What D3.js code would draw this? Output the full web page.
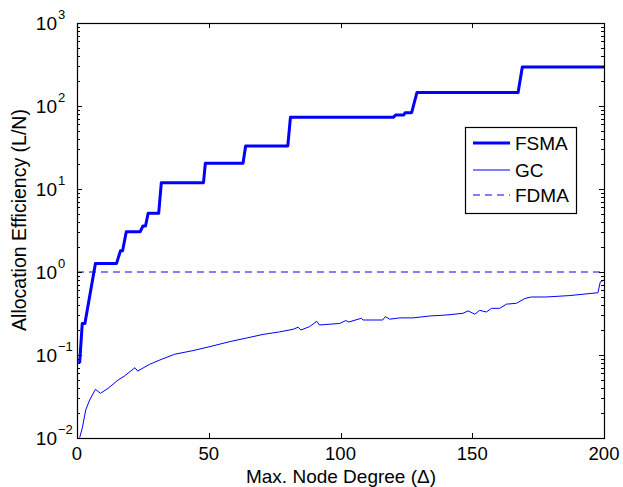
<!DOCTYPE html>
<html lang="en">
  <head>
    <title>Allocation Efficiency</title>
    <script src="https://d3js.org/d3.v7.min.js"></script>
    <style>
      body {
        margin: 0;
        background-color: #fff;
      }
      text {
        font-family: "Liberation Sans", Arial, Helvetica, sans-serif;
        fill: #000;
      }
    </style>
  </head>
  <body>
    <div id="chart"></div>
    <script>
      // FSMA step curve (vertices)
      const fsmaX = [1, 2, 3, 7, 15, 16.5, 17.3, 18.7, 24, 25, 26, 27, 31, 32, 48, 48.7, 63, 64, 80, 81, 120, 121, 124, 124.5, 127, 129, 167.4, 169, 200];
      const fsmaY = [0.08, 0.24, 0.24, 1.27, 1.27, 1.8, 1.8, 3.06, 3.06, 3.58, 3.58, 5.1, 5.1, 11.9, 11.9, 20.4, 20.4, 33, 33, 73, 73, 78, 78, 83, 83, 145, 145, 295, 295];

      // GC curve
      const gcX = [1, 2, 3.3, 4.8, 7, 8.9, 11.8, 15.6, 18, 22, 23, 27.5, 31.4, 37, 44, 50.4, 58, 64.3, 70.6, 76.9, 82, 83.9, 85, 88.3, 91, 92, 99.7, 102, 103.2, 107.9, 108.5, 116, 117, 118.7, 122.5, 127.5, 133.8, 140, 146.5, 148.4, 151, 152.8, 155.4, 157.3, 160.4, 163, 166.8, 170, 172.4, 178, 187, 197.7, 198.6, 200];
      const gcY = [0.0101, 0.0131, 0.0217, 0.0287, 0.0386, 0.0345, 0.0397, 0.05, 0.0558, 0.0703, 0.064, 0.077, 0.087, 0.102, 0.113, 0.126, 0.145, 0.16, 0.177, 0.19, 0.204, 0.216, 0.2, 0.22, 0.255, 0.23, 0.24, 0.26, 0.25, 0.277, 0.264, 0.264, 0.29, 0.27, 0.28, 0.28, 0.295, 0.303, 0.318, 0.34, 0.31, 0.345, 0.33, 0.365, 0.365, 0.41, 0.42, 0.48, 0.5, 0.5, 0.52, 0.563, 0.76, 0.8];

      // FDMA constant
      const fdmaX = [0, 200];
      const fdmaY = [1, 1];

      const xTicks = [0, 50, 100, 150, 200];
      const yExponents = [-2, -1, 0, 1, 2, 3];
      const legendNames = ["FSMA", "GC", "FDMA"];

      const width = 623;
      const height = 487;
      const mLeft = 77, mRight = 604, mTop = 23, mBottom = 438;

      const svg = d3
        .select("#chart")
        .append("svg")
        .attr("width", width)
        .attr("height", height);

      const x = d3.scaleLinear().domain([0, 200]).range([mLeft, mRight]);
      const y = d3.scaleLog().domain([1e-2, 1e3]).range([mBottom, mTop]);

      const line = d3
        .line()
        .x((d) => x(d[0]))
        .y((d) => y(d[1]));

      const zip = (xs, ys) => xs.map((v, i) => [v, ys[i]]);

      svg.append("clipPath").attr("id", "clip")
        .append("rect")
        .attr("x", mLeft).attr("y", mTop)
        .attr("width", mRight - mLeft).attr("height", mBottom - mTop);

      const lines = svg.append("g").attr("clip-path", "url(#clip)");

      lines.append("path")
        .datum(zip(fdmaX, fdmaY))
        .attr("d", line)
        .attr("fill", "none")
        .attr("stroke", "#0000ff")
        .attr("stroke-width", 1)
        .attr("stroke-dasharray", "7,5");

      lines.append("path")
        .datum(zip(gcX, gcY))
        .attr("d", line)
        .attr("fill", "none")
        .attr("stroke", "#0000ff")
        .attr("stroke-width", 1);

      lines.append("path")
        .datum(zip(fsmaX, fsmaY))
        .attr("d", line)
        .attr("fill", "none")
        .attr("stroke", "#0000ff")
        .attr("stroke-width", 3)
        .attr("stroke-linejoin", "round");

      // ticks (inward, MATLAB style)
      const ticks = svg.append("g").attr("stroke", "#000").attr("stroke-width", 1);
      xTicks.forEach((t) => {
        const px = Math.round(x(t)) + 0.5;
        ticks.append("line").attr("x1", px).attr("x2", px).attr("y1", mBottom).attr("y2", mBottom - 5);
        ticks.append("line").attr("x1", px).attr("x2", px).attr("y1", mTop).attr("y2", mTop + 5);
      });
      y.ticks().forEach((t) => {
        const major = Math.abs(Math.log10(t) - Math.round(Math.log10(t))) < 1e-9;
        const len = major ? 5 : 3;
        const py = Math.round(y(t)) + 0.5;
        ticks.append("line").attr("x1", mLeft).attr("x2", mLeft + len).attr("y1", py).attr("y2", py);
        ticks.append("line").attr("x1", mRight).attr("x2", mRight - len).attr("y1", py).attr("y2", py);
      });

      // axes box
      svg.append("rect")
        .attr("x", mLeft + 0.5).attr("y", mTop + 0.5)
        .attr("width", mRight - mLeft).attr("height", mBottom - mTop)
        .attr("fill", "none")
        .attr("stroke", "#000")
        .attr("stroke-width", 1.2);

      // x tick labels
      svg.append("g")
        .selectAll("text")
        .data(xTicks)
        .join("text")
        .attr("x", (d) => x(d))
        .attr("y", 460)
        .attr("text-anchor", "middle")
        .attr("font-size", 18.5)
        .text((d) => d);

      // y tick labels 10^k
      const yl = svg.append("g");
      yExponents.forEach((k) => {
        const py = y(Math.pow(10, k));
        yl.append("text")
          .attr("x", 57).attr("y", py + 7)
          .attr("text-anchor", "end")
          .attr("font-size", 19)
          .text("10");
        yl.append("text")
          .attr("x", 58).attr("y", py - 4)
          .attr("font-size", 13)
          .text(k < 0 ? "\u2212" + -k : k);
      });

      // axis labels
      svg.append("text")
        .attr("x", 341).attr("y", 483)
        .attr("text-anchor", "middle")
        .attr("font-size", 19)
        .text("Max. Node Degree (\u0394)");

      svg.append("text")
        .attr("transform", "translate(26,220) rotate(-90)")
        .attr("text-anchor", "middle")
        .attr("font-size", 19.5)
        .text("Allocation Efficiency (L/N)");

      // legend
      const lg = svg.append("g");
      lg.append("rect")
        .attr("x", 465.5).attr("y", 127.5)
        .attr("width", 111).attr("height", 86)
        .attr("fill", "#fff")
        .attr("stroke", "#000")
        .attr("stroke-width", 1.2);
      const legendY = [143, 170, 195];
      const legendW = [3, 1, 1];
      const legendDash = [null, null, "7,5"];
      legendNames.forEach((name, i) => {
        lg.append("line")
          .attr("x1", 473).attr("x2", 510)
          .attr("y1", legendY[i]).attr("y2", legendY[i])
          .attr("stroke", "#0000ff")
          .attr("stroke-width", legendW[i])
          .attr("stroke-dasharray", legendDash[i]);
        lg.append("text")
          .attr("x", 515).attr("y", legendY[i] + 7)
          .attr("font-size", 19)
          .text(name);
      });
    </script>
  </body>
</html>
